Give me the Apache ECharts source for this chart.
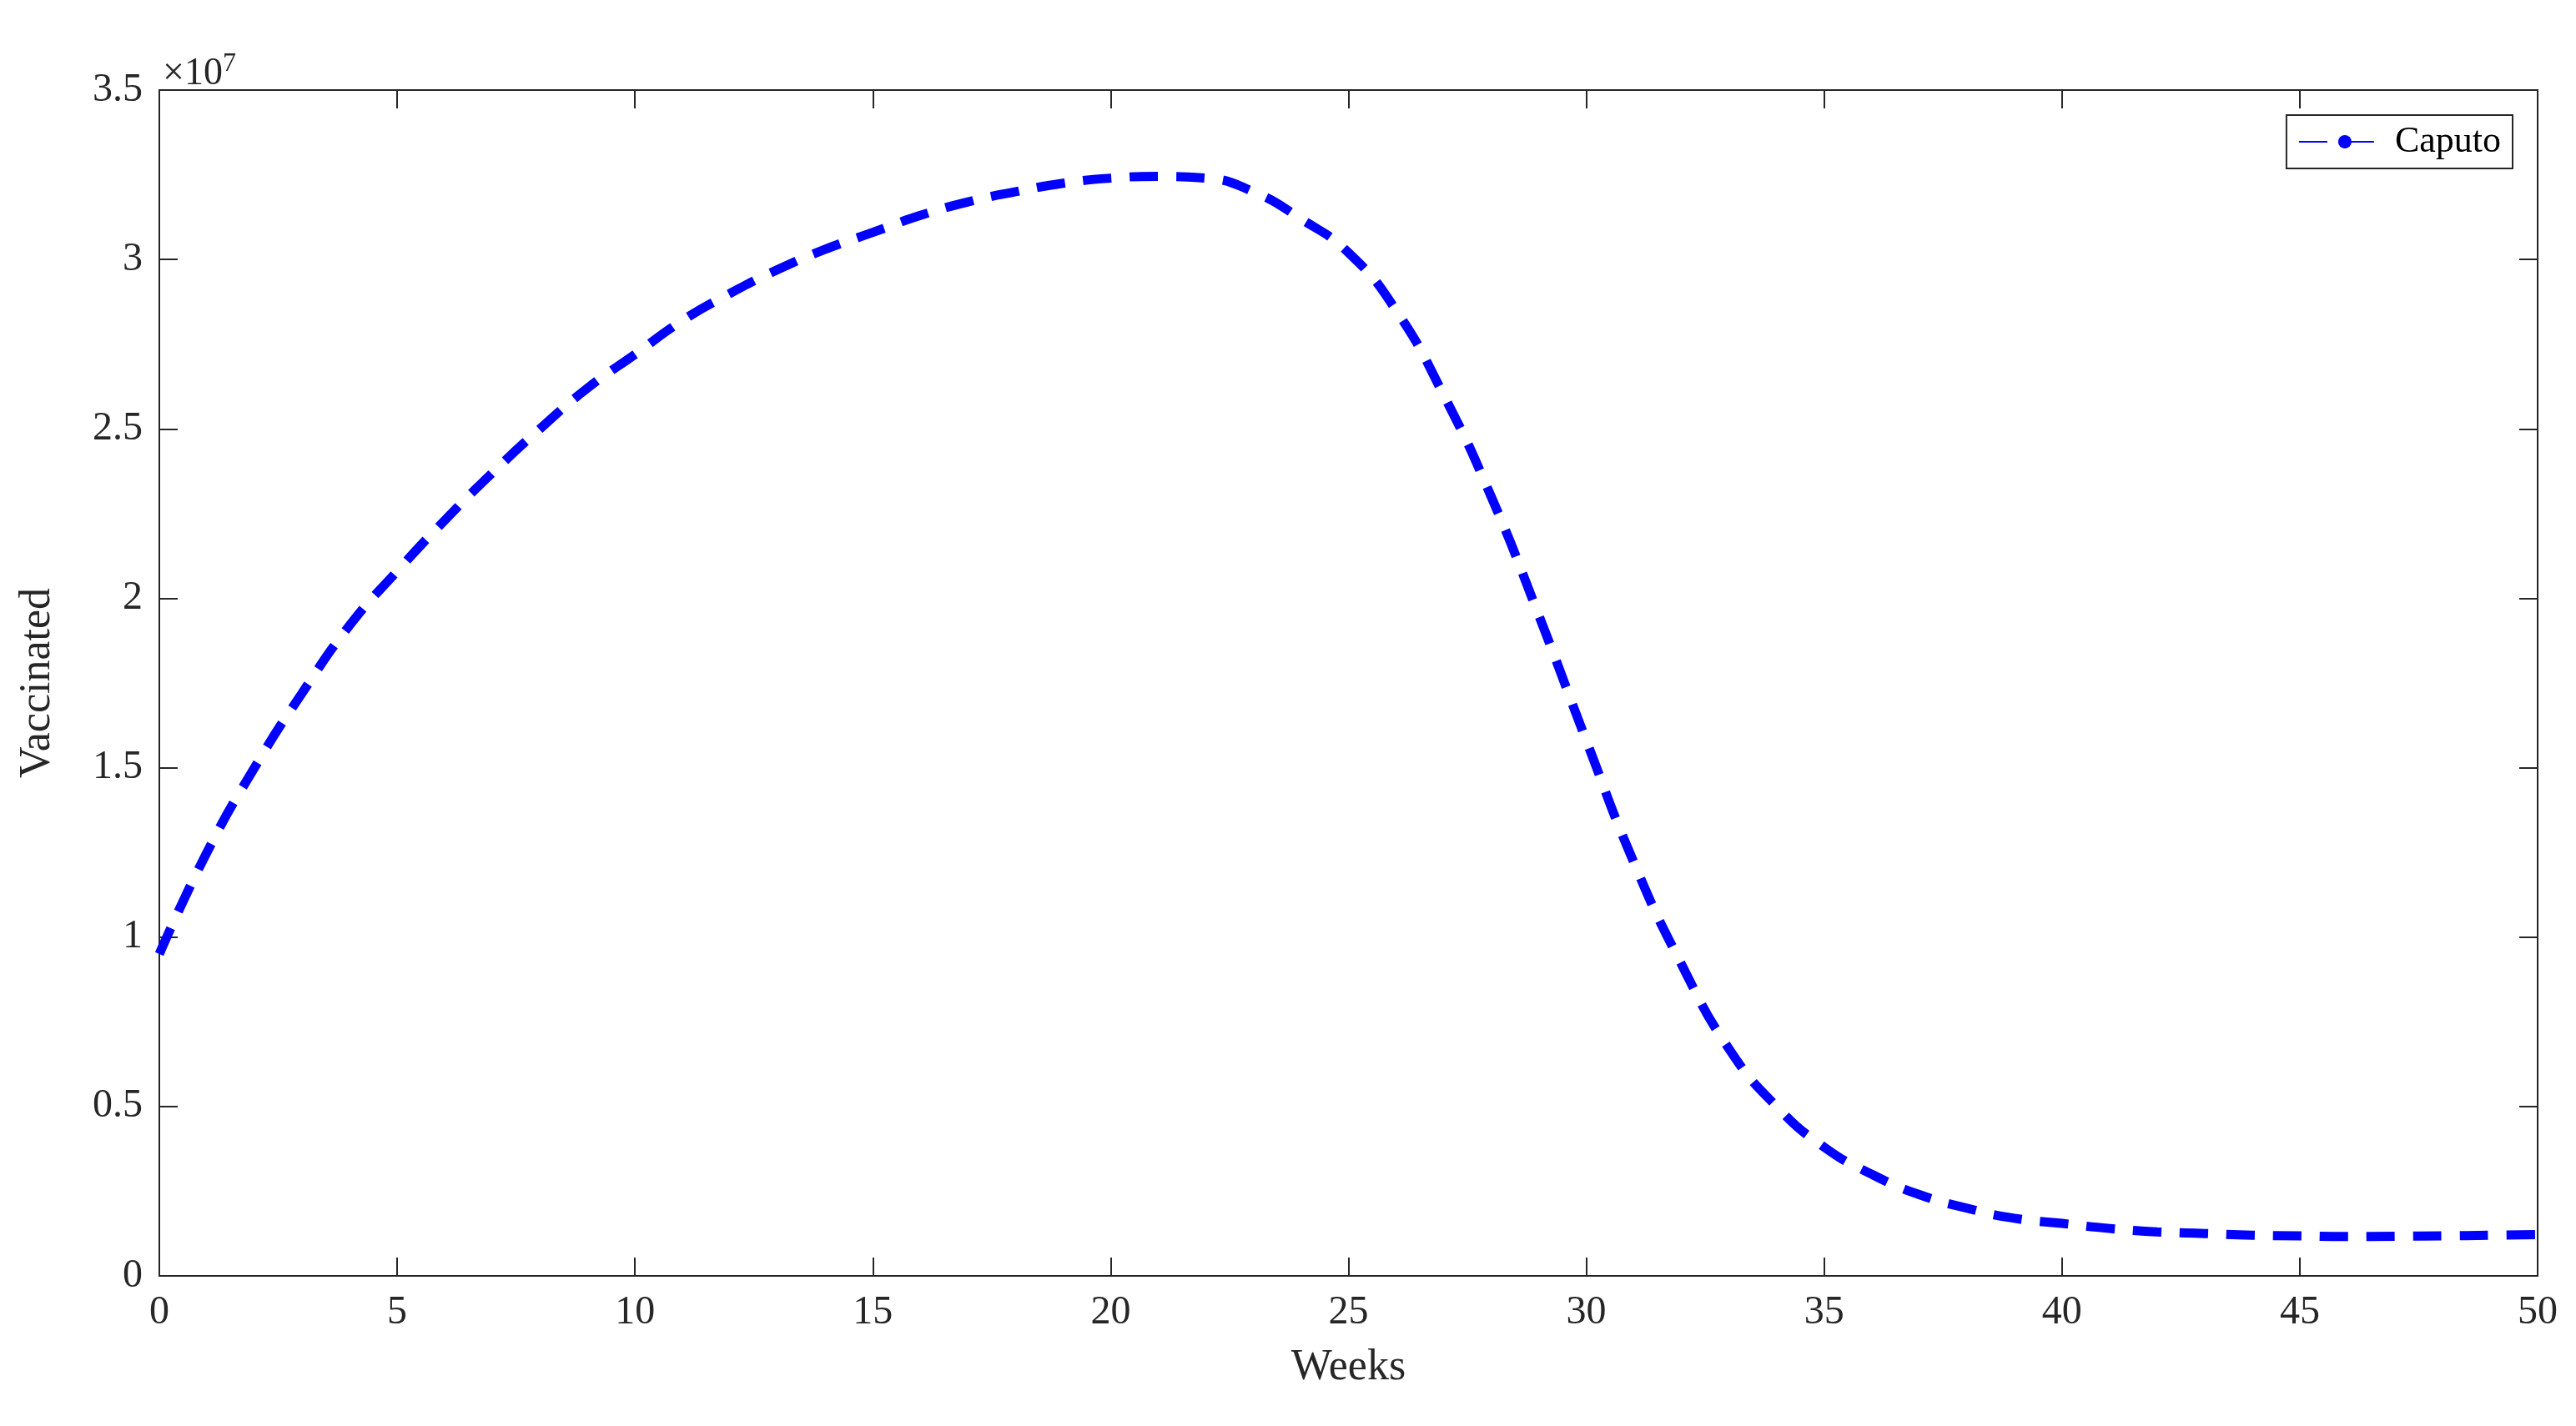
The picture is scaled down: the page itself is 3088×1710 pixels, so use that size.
<!DOCTYPE html>
<html>
<head>
<meta charset="utf-8">
<script src="https://cdn.jsdelivr.net/npm/echarts@6/dist/echarts.min.js"></script>
<style>
  html, body { margin: 0; padding: 0; background: #fff; }
  #main { width: 3088px; height: 1710px; }
</style>
</head>
<body>
<div id="main"></div>
<script>
// weeks and vaccinated (in units of 1e7)
var weeks = [0,1,2,3,4,5,6,7,8,9,10,11,12,13,14,15,16,17,18,19,20,21,22,23,24,25,
             26,27,28,29,30,31,32,33,34,35,36,37,38,39,40,41,42,43,44,45,46,47,48,49,50];
var caputo = [0.95,1.25,1.5,1.72,1.92,2.08,2.23,2.37,2.5,2.62,2.72,2.82,2.9,2.97,3.03,3.08,
              3.13,3.17,3.2,3.225,3.24,3.245,3.24,3.2,3.12,3.02,2.85,2.6,2.3,1.95,1.58,1.22,
              0.92,0.67,0.5,0.38,0.3,0.24,0.2,0.17,0.155,0.14,0.13,0.125,0.12,0.118,0.116,
              0.117,0.118,0.12,0.122];

var font = 'Liberation Serif';
var chart = echarts.init(document.getElementById('main'));

function axisBase(pos, show) {
  return {
    position: pos,
    axisLine: { show: true, onZero: false, lineStyle: { color: '#262626', width: 2 } },
    axisTick: { show: true, inside: true, length: 22, lineStyle: { color: '#262626', width: 2 } },
    axisLabel: { show: show, color: '#262626', fontFamily: font, fontSize: 48, margin: 20 },
    splitLine: { show: false }
  };
}

var pts = weeks.map(function (w, i) { return [w, caputo[i]]; });

chart.setOption({
  animation: false,
  backgroundColor: '#fff',
  grid: { left: 191, right: 46, top: 108, bottom: 180 },
  title: {
    text: '×10{s|7}',
    left: 190, top: 56,
    textStyle: { fontFamily: font, fontSize: 46, fontWeight: 'normal', color: '#262626',
      rich: { s: { fontFamily: font, fontSize: 32, verticalAlign: 'top', padding: [0, 0, 24, 0], color: '#262626' } } }
  },
  legend: {
    right: 76, top: 138,
    orient: 'vertical',
    borderColor: '#262626', borderWidth: 2, borderRadius: 0,
    padding: [10, 14, 10, 14],
    itemWidth: 110, itemHeight: 20,
    textStyle: { fontFamily: font, fontSize: 44, color: '#000' },
    data: ['Caputo']
  },
  xAxis: [
    Object.assign(axisBase('bottom', true), {
      type: 'value', min: 0, max: 50, interval: 5,
      name: 'Weeks', nameLocation: 'middle', nameGap: 84,
      nameTextStyle: { fontFamily: font, fontSize: 52, color: '#262626' }
    }),
    Object.assign(axisBase('top', false), { type: 'value', min: 0, max: 50, interval: 5 })
  ],
  yAxis: [
    Object.assign(axisBase('left', true), {
      type: 'value', min: 0, max: 3.5, interval: 0.5,
      name: 'Vaccinated', nameLocation: 'middle', nameGap: 120,
      nameTextStyle: { fontFamily: font, fontSize: 52, color: '#262626' }
    }),
    Object.assign(axisBase('right', false), { type: 'value', min: 0, max: 3.5, interval: 0.5 })
  ],
  series: [{
    name: 'Caputo',
    type: 'line',
    smooth: true,
    symbol: 'none',
    data: pts,
    lineStyle: { color: '#0000ff', width: 11, type: [34, 22] },
    itemStyle: { color: '#0000ff' }
  }]
});
</script>
</body>
</html>
